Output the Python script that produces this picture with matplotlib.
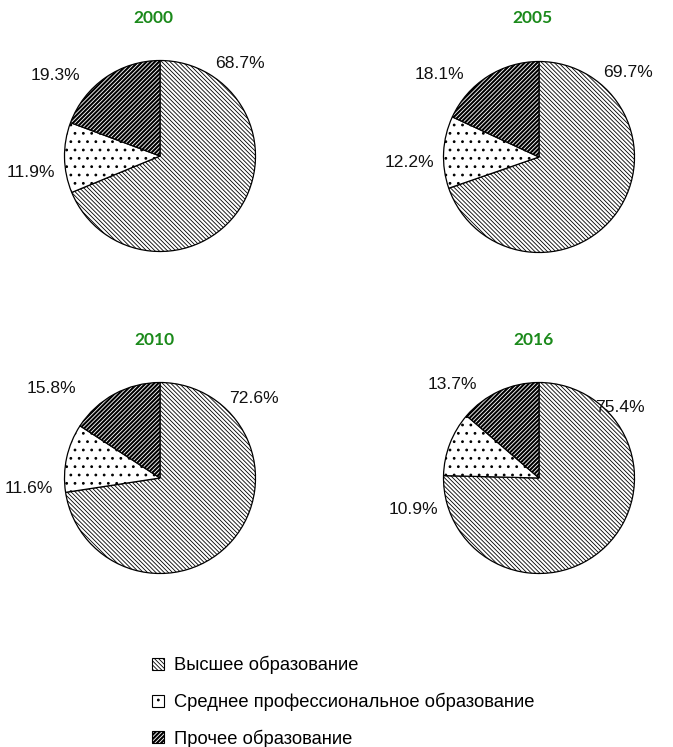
import matplotlib
matplotlib.use("Agg")
import matplotlib.pyplot as plt
from matplotlib.patches import Patch

plt.rcParams['font.family'] = ['Liberation Sans', 'DejaVu Sans']

categories = ["Высшее образование", "Среднее профессиональное образование", "Прочее образование"]
years = ["2000", "2005", "2010", "2016"]
values = {
    "2000": [68.7, 11.9, 19.3],
    "2005": [69.7, 12.2, 18.1],
    "2010": [72.6, 11.6, 15.8],
    "2016": [75.4, 10.9, 13.7],
}

# layout (pixels)
W, H = 673, 747
centers = {"2000": (160, 156), "2005": (539, 157), "2010": (160, 478), "2016": (539, 478)}
radius_px = 95.5
title_pos = {"2000": (153, 18), "2005": (532, 18), "2010": (154, 340), "2016": (533, 340)}
# label positions in units of pie radius, per wedge
label_pos = {
    "2000": [(0.84, 0.97), (-1.35, -0.17), (-1.10, 0.84)],
    "2005": [(0.93, 0.89), (-1.36, -0.06), (-1.04, 0.86)],
    "2010": [(0.98, 0.83), (-1.37, -0.11), (-1.14, 0.94)],
    "2016": [(0.85, 0.74), (-1.31, -0.33), (-0.91, 0.98)],
}
hatches = ['\\' * 8, '..', '/' * 8]
hatch_lw = [0.6, 0.8, 1.5]

fig = plt.figure(figsize=(W / 100, H / 100), dpi=100)


def style_hatch(p, lw):
    if hasattr(p, 'set_hatch_linewidth'):
        p.set_hatch_linewidth(lw)
    orig = p.draw

    def draw(renderer, _orig=orig, _lw=lw):
        with plt.rc_context({'hatch.linewidth': _lw}):
            _orig(renderer)
    p.draw = draw


lim = 1.6
for y in years:
    cx, cy = centers[y]
    half = lim * radius_px
    ax = fig.add_axes([(cx - half) / W, (H - cy - half) / H, 2 * half / W, 2 * half / H])
    wedges, _ = ax.pie(values[y], startangle=90, counterclock=False,
                       colors=['white'] * 3,
                       wedgeprops=dict(edgecolor='black', linewidth=0.9))
    for w, h, lw in zip(wedges, hatches, hatch_lw):
        w.set_hatch(h)
        style_hatch(w, lw)
    for (lx, ly), v in zip(label_pos[y], values[y]):
        ax.text(lx, ly, f"{v:.1f}%", ha='center', va='center', fontsize=12.6, color='#111111')
    ax.set_xlim(-lim, lim)
    ax.set_ylim(-lim, lim)
    ax.set_aspect('equal')
    ax.axis('off')
    tx, ty = title_pos[y]
    fig.text(tx / W, 1 - ty / H, y, ha='center', va='center', fontsize=12.5,
             fontweight='bold', color='#1b8a1b', family=['Lato', 'DejaVu Sans'])

handles = [Patch(facecolor='white', edgecolor='black', hatch=h, linewidth=0.8, label=c)
           for c, h in zip(categories, hatches)]

leg = fig.legend(handles=handles, loc='upper left', bbox_to_anchor=(143 / W, 1 - 647 / H),
                 frameon=False, fontsize=13.2, handlelength=0.65, handleheight=0.65,
                 handletextpad=0.55, labelspacing=1.0, borderpad=0)
for p, lw in zip(leg.get_patches(), hatch_lw):
    style_hatch(p, lw)

fig.savefig("out.png", dpi=100)
